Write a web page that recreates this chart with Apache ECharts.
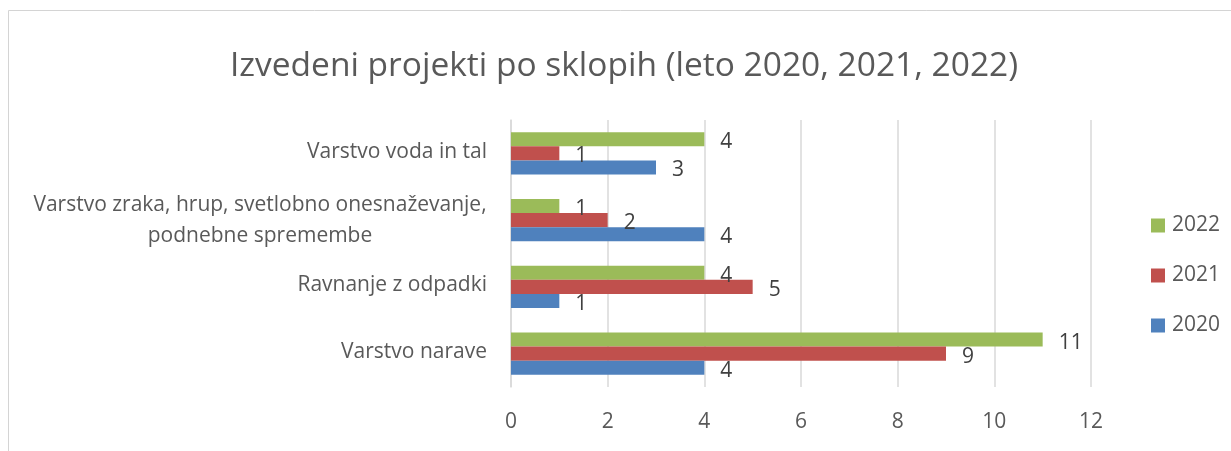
<!DOCTYPE html>
<html><head><meta charset="utf-8">
<script src="https://cdn.jsdelivr.net/npm/echarts@6/dist/echarts.min.js"></script>
<style>html,body{margin:0;padding:0;background:#fff}#c{width:1231px;height:451px}</style>
</head><body><div id="c"></div>
<script>
// categories listed bottom-to-top (as drawn on the category axis)
const categories = ['Varstvo narave', 'Ravnanje z odpadki', 'Varstvo zraka, hrup, svetlobno onesnaževanje,\npodnebne spremembe', 'Varstvo voda in tal'];
const seriesNames = ['2022', '2021', '2020'];
const values2022 = [11, 4, 1, 4];
const values2021 = [9, 5, 2, 1];
const values2020 = [4, 1, 4, 3];
const xTicks = [0, 2, 4, 6, 8, 10, 12];
const titleText = 'Izvedeni projekti po sklopih (leto 2020, 2021, 2022)';

const FONT = "'Open Sans', sans-serif";
const colors = ['#9BBB59', '#C0504D', '#4F81BD'];
const labelSize = 21;

function measure(t, size) {
  const c = document.createElement('canvas').getContext('2d');
  c.font = size + 'px ' + FONT;
  return c.measureText(t).width;
}

const chart = echarts.init(document.getElementById('c'), null, {renderer: 'canvas'});
const seriesData = [values2022, values2021, values2020];
const longLine = 'Varstvo zraka, hrup, svetlobno onesnaževanje,';
chart.setOption({
  animation: false,
  backgroundColor: '#fff',
  graphic: [{type: 'rect', shape: {x: 8.5, y: 10.5, width: 1300, height: 600}, style: {fill: 'none', stroke: '#d4d4d4', lineWidth: 1}, silent: true}],
  title: {text: titleText, left: 225, top: 44, textStyle: {fontFamily: FONT, fontSize: 33.5, fontWeight: 'normal', color: '#595959'}},
  legend: {
    data: ['2022', '2021', '2020'], orient: 'vertical', left: 1146, top: 210,
    itemWidth: 14, itemHeight: 14, itemGap: 29, icon: 'rect',
    textStyle: {fontFamily: FONT, fontSize: 21, color: '#595959', padding: [0, 0, 0, 2]}
  },
  grid: {left: 511, right: 140, top: 120, bottom: 64, containLabel: false},
  xAxis: {
    type: 'value', min: xTicks[0], max: xTicks[xTicks.length - 1], interval: 2,
    axisLine: {show: false}, axisTick: {show: false},
    splitLine: {lineStyle: {color: '#d9d9d9', width: 1.5}},
    axisLabel: {fontFamily: FONT, fontSize: 21, color: '#595959', margin: 25}
  },
  yAxis: {
    type: 'category', data: categories,
    axisLine: {show: true, lineStyle: {color: '#d9d9d9', width: 1.5}}, axisTick: {show: false},
    axisLabel: {
      fontFamily: FONT, fontSize: labelSize, color: '#595959', margin: 24, lineHeight: 31,
      formatter: function (v) {
        if (v.indexOf('\n') >= 0) {
          const parts = v.split('\n');
          return '{c|' + parts[0] + '}\n{c|' + parts[1] + '}';
        }
        return '{s|' + v + '}';
      },
      rich: {
        c: {fontFamily: FONT, fontSize: labelSize, color: '#595959', width: Math.ceil(measure(longLine, labelSize)), align: 'center', lineHeight: 31, padding: [0, 0, 0, 0]},
        s: {fontFamily: FONT, fontSize: labelSize, color: '#595959', lineHeight: 31, padding: [0, 0, 3, 0]}
      }
    }
  },
  series: seriesNames.map((n, i) => ({
    name: n, type: 'bar', data: seriesData[i], barGap: '0%', barCategoryGap: '37%',
    itemStyle: {color: colors[i]},
    label: {show: true, position: 'right', distance: 16, offset: [0, 3], fontFamily: FONT, fontSize: 21, color: '#404040'}
  }))
});
</script></body></html>
